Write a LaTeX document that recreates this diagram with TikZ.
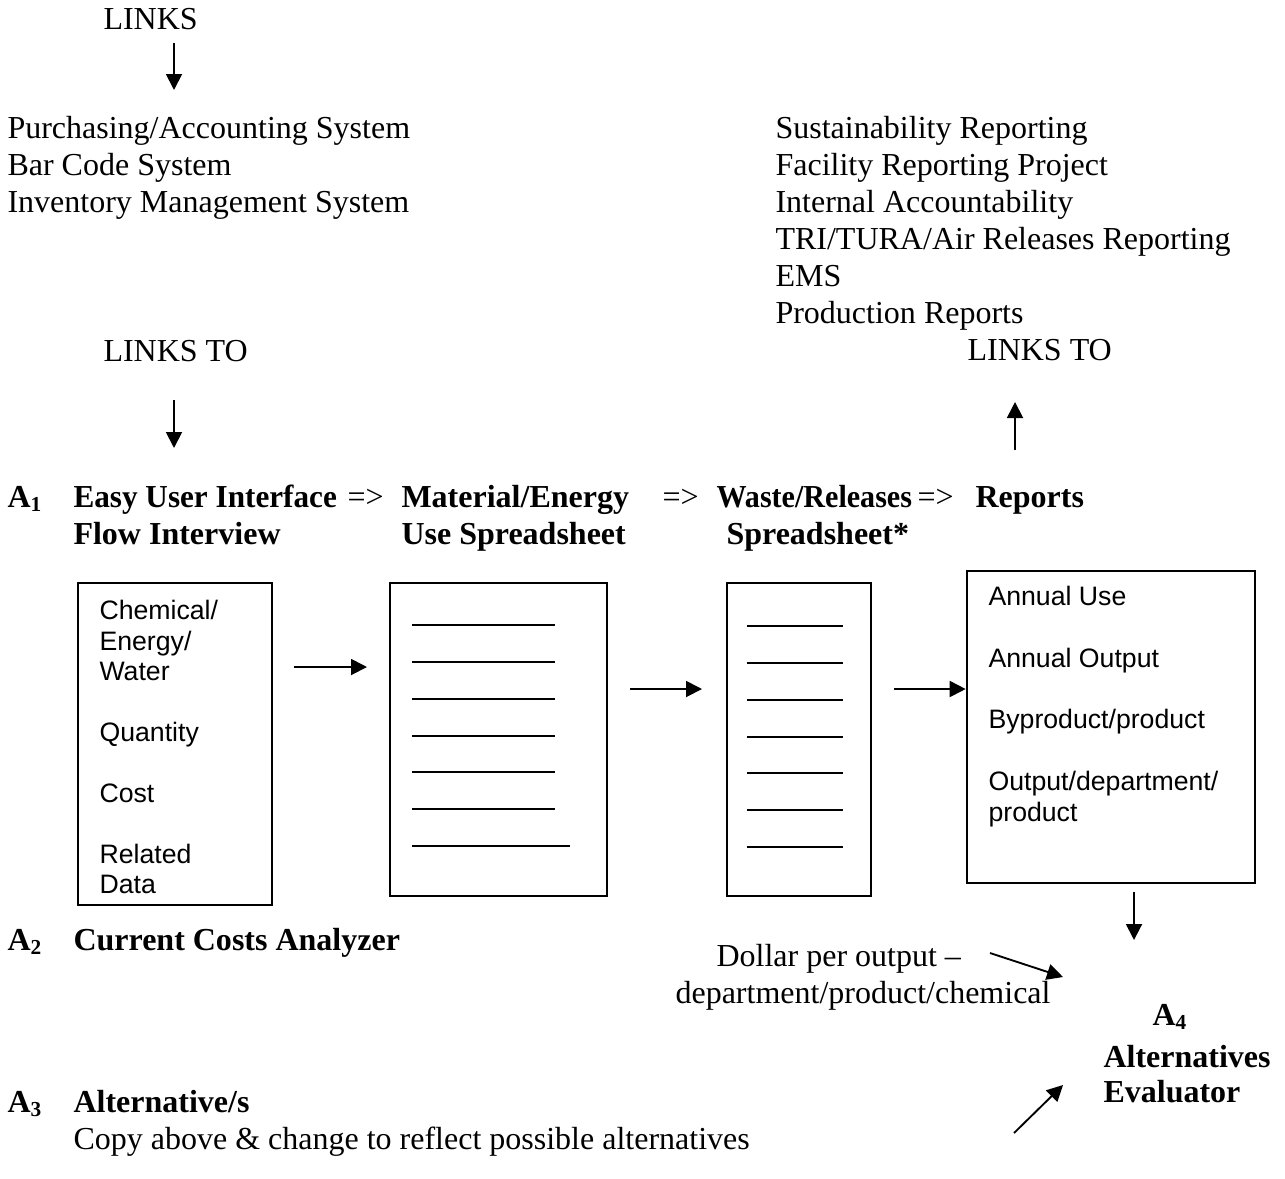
\documentclass[tikz,border=0pt]{standalone}
\usepackage{fontspec}
\usepackage{graphicx}
\setmainfont{Liberation Serif}
\newfontfamily\arialf{Liberation Sans}
\usetikzlibrary{arrows.meta}
\begin{document}
\begin{tikzpicture}[x=0.375pt,y=-0.375pt,
  tx/.style={anchor=base west,inner sep=0pt,font=\fontsize{12}{13.8}\selectfont},
  bx/.style={anchor=base west,inner sep=0pt,font=\arialf\fontsize{10}{11.5}\selectfont},
  frame/.style={draw,line width=1pt,inner sep=0pt},
  rule/.style={line width=0.55pt},
  arr/.style={line width=0.7pt,-{Triangle[length=6pt,width=6pt]}}]
\path[use as bounding box] (0,0) rectangle (1285,1178);

% top left
\node[tx] (links) at (103,29) {LINKS};
\node[tx] (ls1) at (7,138) {Purchasing/Accounting System};
\node[tx] (ls2) at (7,175) {Bar Code System};
\node[tx] (ls3) at (7,212) {Inventory Management System};
\node[tx] (linksto1) at (103,361) {LINKS TO};
\coordinate (t1a) at (174,43); \coordinate (t1b) at (174,90);
\draw[arr] (t1a) -- (t1b);
\coordinate (t2a) at (174,400); \coordinate (t2b) at (174,448);
\draw[arr] (t2a) -- (t2b);

% top right
\node[tx] (rs1) at (775,138) {Sustainability Reporting};
\node[tx] (rs2) at (775,175) {Facility Reporting Project};
\node[tx] (rs3) at (775,212) {Internal Accountability};
\node[tx] (rs4) at (775,249) {TRI/TURA/Air Releases Reporting};
\node[tx] (rs5) at (775,286) {EMS};
\node[tx] (rs6) at (775,323) {Production Reports};
\node[tx] (linksto2) at (967,360) {LINKS TO};
\coordinate (t3a) at (1015,450); \coordinate (t3b) at (1015,402);
\draw[arr] (t3a) -- (t3b);

% A1 row
\node[tx] (a1) at (7,507) {\textbf{A\textsubscript{1}}};
\node[tx] (h1) at (73,507) {\scalebox{0.975}[1]{\textbf{Easy User Interface}}};
\node[tx] (g1) at (347,507) {=>};
\node[tx] (h2) at (401,507) {\textbf{Material/Energy}};
\node[tx] (g2) at (662,507) {=>};
\node[tx] (h3) at (716,507) {\scalebox{0.94}[1]{\textbf{Waste/Releases}}};
\node[tx] (g3) at (917,507) {=>};
\node[tx] (h4) at (975,507) {\textbf{Reports}};
\node[tx] (h1b) at (73,544) {\textbf{Flow Interview}};
\node[tx] (h2b) at (401,544) {\textbf{Use Spreadsheet}};
\node[tx] (h3b) at (726,544) {\textbf{Spreadsheet*}};

% boxes
\node[frame,minimum width=194*0.375pt,minimum height=322*0.375pt] (box1) at (175,744) {};
\node[frame,minimum width=217*0.375pt,minimum height=313*0.375pt] (box2) at (498.5,739.5) {};
\node[frame,minimum width=144*0.375pt,minimum height=313*0.375pt] (box3) at (799,739.5) {};
\node[frame,minimum width=288*0.375pt,minimum height=312*0.375pt] (box4) at (1111,727) {};

% box1 text
\node[bx] (b1t1) at (99,619) {Chemical/};
\node[bx] (b1t2) at (99,650) {Energy/};
\node[bx] (b1t3) at (99,680) {Water};
\node[bx] (b1t4) at (99,741) {Quantity};
\node[bx] (b1t5) at (99,802) {Cost};
\node[bx] (b1t6) at (99,863) {Related};
\node[bx] (b1t7) at (99,893) {Data};

% box2 rules
\foreach \yy in {625,662,699,736,772,809} \draw[rule] (412,\yy) -- (555,\yy);
\draw[rule] (412,846) -- (570,846);
% box3 rules
\foreach \yy in {626,663,700,737,773,810,847} \draw[rule] (747,\yy) -- (843,\yy);

% box4 text
\node[bx] (b4t1) at (988,605) {Annual Use};
\node[bx] (b4t2) at (988,667) {Annual Output};
\node[bx] (b4t3) at (988,728) {Byproduct/product};
\node[bx] (b4t4) at (988,790) {Output/department/};
\node[bx] (b4t5) at (988,821) {product};

% box arrows
\coordinate (p1a) at (294,667); \coordinate (p1b) at (367,667);
\draw[arr] (p1a) -- (p1b);
\coordinate (p2a) at (630,689); \coordinate (p2b) at (702,689);
\draw[arr] (p2a) -- (p2b);
\coordinate (p3a) at (894,689);
\draw[arr] (p3a) -- (box4.west |- p3a);

% A2, A3
\node[tx] (a2) at (7,950) {\textbf{A\textsubscript{2}}};
\node[tx] (a2t) at (73,950) {\textbf{Current Costs Analyzer}};
\node[tx] (a3) at (7,1112) {\textbf{A\textsubscript{3}}};
\node[tx] (a3t) at (73,1112) {\textbf{Alternative/s}};
\node[tx] (a3c) at (73,1149) {Copy above \& change to reflect possible alternatives};

% A4 area
\node[tx] (dol1) at (716,966) {Dollar per output –};
\node[tx] (dol2) at (675,1003) {department/product/chemical};
\node[tx] (a4) at (1152,1025) {\textbf{A\textsubscript{4}}};
\node[tx] (a4t1) at (1103,1067) {\textbf{Alternatives}};
\node[tx] (a4t2) at (1103,1102) {\textbf{Evaluator}};
\coordinate (d0) at (1134,892); \coordinate (d1) at (1134,940);
\draw[arr] (d0) -- (d1);
\coordinate (e0) at (990,953); \coordinate (e1) at (1063,977);
\draw[arr] (e0) -- (e1);
\coordinate (f0) at (1014,1133); \coordinate (f1) at (1063,1085);
\draw[arr] (f0) -- (f1);
\end{tikzpicture}
\end{document}
